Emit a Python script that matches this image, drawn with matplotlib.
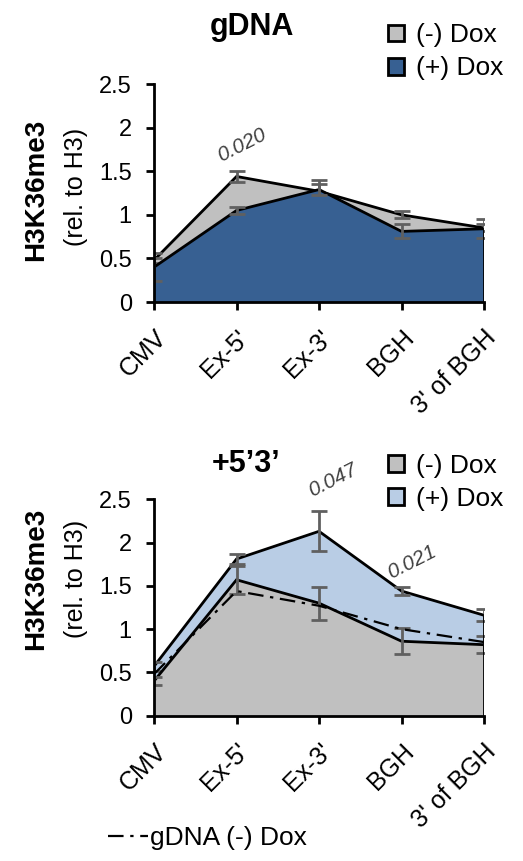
import matplotlib.pyplot as plt
from matplotlib.patches import Patch
from matplotlib.lines import Line2D

plt.rcParams['font.family'] = ['Liberation Sans', 'DejaVu Sans']

sites = ['CMV', "Ex-5'", "Ex-3'", 'BGH', "3' of BGH"]
yticks = [0, 0.5, 1, 1.5, 2, 2.5]
ytick_labels = ['0', '0.5', '1', '1.5', '2', '2.5']

# gDNA panel
gdna_minus = [0.48, 1.44, 1.27, 1.00, 0.85]
gdna_minus_err = [0.03, 0.06, 0.13, 0.04, 0.04]
gdna_plus = [0.40, 1.05, 1.29, 0.81, 0.84]
gdna_plus_err = [0.16, 0.04, 0.06, 0.08, 0.11]

# +5'3' panel
p53_minus = [0.40, 1.57, 1.30, 0.86, 0.82]
p53_minus_err = [0.05, 0.16, 0.19, 0.15, 0.10]
p53_plus = [0.57, 1.81, 2.13, 1.44, 1.16]
p53_plus_err = [0.05, 0.06, 0.23, 0.05, 0.07]

gray = '#c0c0c0'
dark_blue = '#376092'
light_blue = '#b9cde5'
err_color = '#606060'

fig = plt.figure(figsize=(5.23, 8.61), dpi=100)
ax1 = fig.add_axes([0.2945, 0.6492, 0.631, 0.2532])
ax2 = fig.add_axes([0.2945, 0.1688, 0.631, 0.2513])

x = list(range(len(sites)))


def area(ax, vals, errs, color, z):
    ax.fill_between(x, 0, vals, facecolor=color, edgecolor='none', zorder=z)
    ax.plot(x, vals, color='black', lw=2, zorder=z + 0.5, solid_joinstyle='miter')
    ax.errorbar(x, vals, yerr=errs, fmt='none', ecolor=err_color, elinewidth=2,
                capsize=5.5, capthick=2, zorder=z + 0.6)


# top: gray behind, blue in front
area(ax1, gdna_minus, gdna_minus_err, gray, 2)
area(ax1, gdna_plus, gdna_plus_err, dark_blue, 3)
ax1.plot([4, 4], [0, gdna_plus[4]], color='black', lw=2, zorder=4)

# bottom: light blue behind, gray in front
area(ax2, p53_plus, p53_plus_err, light_blue, 2)
area(ax2, p53_minus, p53_minus_err, gray, 3)
ax2.plot([4, 4], [0, p53_plus[4]], color='black', lw=2, zorder=4)
ax2.plot(x, gdna_minus, color='black', lw=1.6, dashes=(7, 3, 1.5, 3), zorder=5)

for ax in (ax1, ax2):
    ax.set_xlim(0, 4)
    ax.set_ylim(0, 2.5)
    ax.set_yticks(yticks)
    ax.set_yticklabels(ytick_labels, fontsize=17)
    ax.set_xticks(x)
    ax.set_xticklabels(sites, rotation=45, ha='right', va='top', rotation_mode='anchor',
                       fontsize=18)
    ax.tick_params(axis='both', width=2, length=6, direction='out')
    ax.tick_params(axis='x', pad=11)
    ax.tick_params(axis='y', pad=10)
    for s in ('top', 'right'):
        ax.spines[s].set_visible(False)
    for s in ('left', 'bottom'):
        ax.spines[s].set_linewidth(2)
        ax.spines[s].set_zorder(10)

# y labels
ax1.text(-0.358, 0.514, 'H3K36me3', transform=ax1.transAxes, rotation=90,
         fontsize=20, fontweight='bold', ha='center', va='center')
ax1.text(-0.235, 0.527, '(rel. to H3)', transform=ax1.transAxes, rotation=90,
         fontsize=18, ha='center', va='center')
ax2.text(-0.358, 0.63, 'H3K36me3', transform=ax2.transAxes, rotation=90,
         fontsize=20, fontweight='bold', ha='center', va='center')
ax2.text(-0.235, 0.63, '(rel. to H3)', transform=ax2.transAxes, rotation=90,
         fontsize=18, ha='center', va='center')

fig.text(0.482, 0.969, 'gDNA', fontsize=22, fontweight='bold', ha='center', va='center')
fig.text(0.47, 0.461, "+5\u20193\u2019", fontsize=22, fontweight='bold', ha='center', va='center')

# p-value annotations
ann_color = '#404040'
ax1.text(1.07, 1.80, '0.020', rotation=27, fontsize=15, style='italic',
         color=ann_color, ha='center', va='center')
ax2.text(2.17, 2.72, '0.047', rotation=27, fontsize=15, style='italic',
         color=ann_color, ha='center', va='center')
ax2.text(3.13, 1.77, '0.021', rotation=27, fontsize=15, style='italic',
         color=ann_color, ha='center', va='center')

legend_kw = dict(loc='upper left', frameon=False, fontsize=19, handlelength=0.6,
                 handleheight=0.6, handletextpad=0.45, labelspacing=0.35, borderpad=0,
                 borderaxespad=0)
fig.legend(handles=[Patch(facecolor=gray, edgecolor='black', lw=2, label='(-) Dox'),
                    Patch(facecolor=dark_blue, edgecolor='black', lw=2, label='(+) Dox')],
           bbox_to_anchor=(0.742, 0.973), **legend_kw)
fig.legend(handles=[Patch(facecolor=gray, edgecolor='black', lw=2, label='(-) Dox'),
                    Patch(facecolor=light_blue, edgecolor='black', lw=2, label='(+) Dox')],
           bbox_to_anchor=(0.742, 0.473), **legend_kw)
fig.legend(handles=[Line2D([0], [0], color='black', lw=1.6, dashes=(7, 3, 1.5, 3),
                           label='gDNA (-) Dox')],
           loc='center left', bbox_to_anchor=(0.2065, 0.027), frameon=False, fontsize=19,
           handlelength=1.5, handletextpad=0.1, borderpad=0, borderaxespad=0)

fig.savefig('out.png', dpi=100)
